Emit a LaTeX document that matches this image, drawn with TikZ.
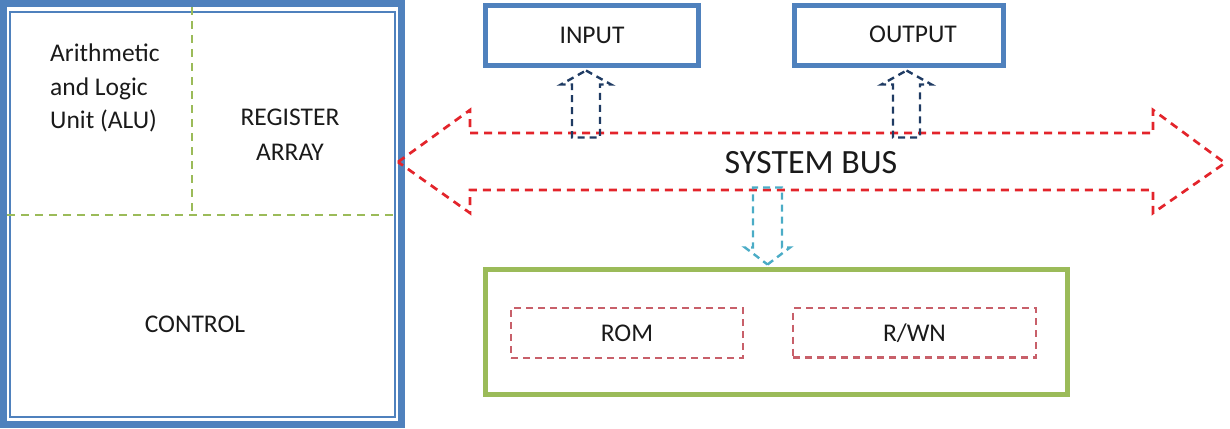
\documentclass[tikz,border=0pt]{standalone}
\usepackage{fontspec}
\setmainfont{Carlito}
\usetikzlibrary{calc}
\definecolor{cpublue}{HTML}{4F81BD}
\definecolor{navyarrow}{HTML}{1F3B63}
\definecolor{tealarrow}{HTML}{4BACC6}
\definecolor{memgreen}{HTML}{9BBB59}
\definecolor{busred}{HTML}{E3242B}
\definecolor{romred}{HTML}{C8606A}
\definecolor{txt}{HTML}{1A1A1A}
\tikzset{
  lbl/.style={text=txt, inner sep=0pt, font=\fontsize{25.5}{30}\selectfont},
  iobox/.style={draw=cpublue, line width=5pt, minimum width=212.5pt, minimum height=60pt, inner sep=0pt, text=txt, font=\fontsize{25.5}{30}\selectfont},
  membox/.style={draw=memgreen, line width=5pt, inner sep=0pt},
  rombox/.style={draw=romred, line width=2.5pt, dash pattern=on 7pt off 5pt, inner sep=0pt, text=txt, font=\fontsize{25.5}{30}\selectfont},
  divider/.style={draw=memgreen, line width=2.3pt, dash pattern=on 8pt off 6pt},
  busline/.style={draw=busred, line width=2.7pt, dash pattern=on 8pt off 6pt, line join=miter},
  ioarrow/.style={draw=navyarrow, line width=2.4pt, dash pattern=on 7pt off 5pt},
  memarrow/.style={draw=tealarrow, line width=2.4pt, dash pattern=on 7pt off 5pt},
}
\begin{document}
\begin{tikzpicture}[x=1pt,y=-1pt]
\useasboundingbox (0,0) rectangle (1230,428);

% CPU block with thick-thin double border
\node[draw=cpublue, line width=7pt, minimum width=398pt, minimum height=420.5pt, inner sep=0pt] (cpu) at (202.5,214.25) {};
\draw[cpublue, line width=1.5pt] (10,12) rectangle (395,417);
\draw[divider] (192,7) -- (192,215);
\draw[divider] (7,215) -- (398,215);

\node[lbl, anchor=base west] (alu1) at (50,62) {Arithmetic};
\node[lbl, anchor=base west] (alu2) at (50,95) {and Logic};
\node[lbl, anchor=base west] (alu3) at (50,128) {Unit (ALU)};
\node[lbl, anchor=base] (reg1) at (290,125) {REGISTER};
\node[lbl, anchor=base] (reg2) at (290,160) {ARRAY};
\node[lbl, anchor=base] (ctrl) at (195,332) {CONTROL};

% I/O boxes
\node[iobox] (input) at (592,35.5) {INPUT};
\node[iobox, minimum width=209pt] (output) at (898.5,35.5) {};
\node[lbl] (outtxt) at (913,34) {OUTPUT};

% memory
\node[membox, minimum width=582pt, minimum height=125pt] (mem) at (776.5,332) {};
\node[rombox, minimum width=232pt, minimum height=50pt] (rom) at (627,333) {ROM};
\node[rombox, minimum width=243pt, minimum height=49.5pt] (rwn) at (914.5,332.75) {R/WN};

% system bus
\draw[busline] (398,162) -- (470,110) -- (470,133) -- (1153,133) -- (1153,110) -- (1225,163) -- (1153,213) -- (1153,190) -- (470,190) -- (470,213) -- cycle;
\node[lbl, font=\fontsize{34}{40}\selectfont] (bus) at (811,162.5) {SYSTEM BUS};

% block arrows
\coordinate (inTip) at ($(input.south)+(-6,2.5)$);
\draw[ioarrow] (inTip) -- ++(25,14) -- ++(-11,0) -- ++(0,53) -- ++(-28,0) -- ++(0,-53) -- ++(-11,0) -- cycle;
\coordinate (outTip) at ($(output.south)+(8,2.5)$);
\draw[ioarrow] (outTip) -- ++(25,14) -- ++(-11.5,0) -- ++(0,53) -- ++(-27,0) -- ++(0,-53) -- ++(-11.5,0) -- cycle;
\coordinate (memTip) at ($(mem.north)+(-9,-2.5)$);
\draw[memarrow] (memTip) -- ++(22.5,-17) -- ++(-8,0) -- ++(0,-60) -- ++(-29,0) -- ++(0,60) -- ++(-8,0) -- cycle;
\end{tikzpicture}
\end{document}
